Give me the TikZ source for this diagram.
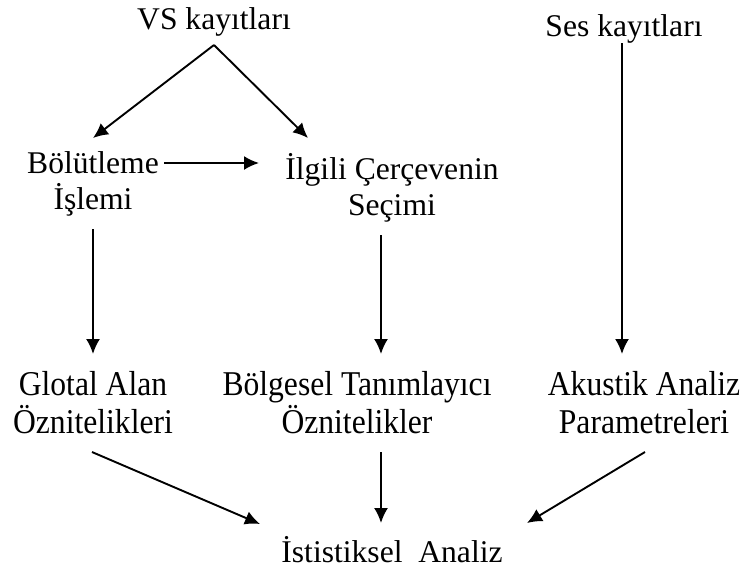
\documentclass[tikz,border=0pt]{standalone}
\usepackage{fontspec}
\setmainfont{Liberation Serif}
\usetikzlibrary{arrows.meta}

\begin{document}
\begin{tikzpicture}[x=1pt,y=-1pt]
    \tikzset{every node/.style={align=center,anchor=base,inner sep=0pt,font=\fontsize{31.6}{36}\selectfont}};
    \tikzset{tall/.style={transform shape,yscale=1.1,font=\fontsize{31.6}{34.5}\selectfont}};
    \tikzset{arr/.style={-{Latex[length=15pt,width=14pt]},line width=1.9pt}};
    \useasboundingbox (0,0) rectangle (748,571);
    \node (vs) at (214,29) {VS kayıtları};
    \node (ses) at (624,36) {Ses kayıtları};
    \node (bol) at (93,209) {Bölütleme\\İşlemi};
    \node (ilg) at (392,215) {İlgili Çerçevenin\\Seçimi};
    \node[tall] (glo) at (93,433) {Glotal Alan\\Öznitelikleri};
    \node[tall] (bolg) at (357,433) {Bölgesel Tanımlayıcı\\Öznitelikler};
    \node[tall] (aku) at (644,433) {Akustik Analiz\\Parametreleri};
    \node (ist) at (392,562) {İstistiksel\ \ Analiz};
    \draw[arr] ([shift={(0,16)}]vs.base) -- ([shift={(0,-71)}]bol.base);
    \draw[arr] ([shift={(0,16)}]vs.base) -- ([shift={(-84,-77)}]ilg.base);
    \draw[arr] ([shift={(71,-46)}]bol.base) -- ([shift={(-133,-52)}]ilg.base);
    \draw[arr] ([shift={(0,20)}]bol.base) -- ([shift={(0,-79)}]glo.base);
    \draw[arr] ([shift={(-11,20)}]ilg.base) -- ([shift={(24,-79)}]bolg.base);
    \draw[arr] ([shift={(-2,7)}]ses.base) -- ([shift={(-22,-79)}]aku.base);
    \draw[arr] ([shift={(-1,19)}]glo.base) -- ([shift={(-132,-38)}]ist.base);
    \draw[arr] ([shift={(24,19)}]bolg.base) -- ([shift={(-11,-39)}]ist.base);
    \draw[arr] ([shift={(1,19)}]aku.base) -- ([shift={(135,-39)}]ist.base);
\end{tikzpicture}
\end{document}
